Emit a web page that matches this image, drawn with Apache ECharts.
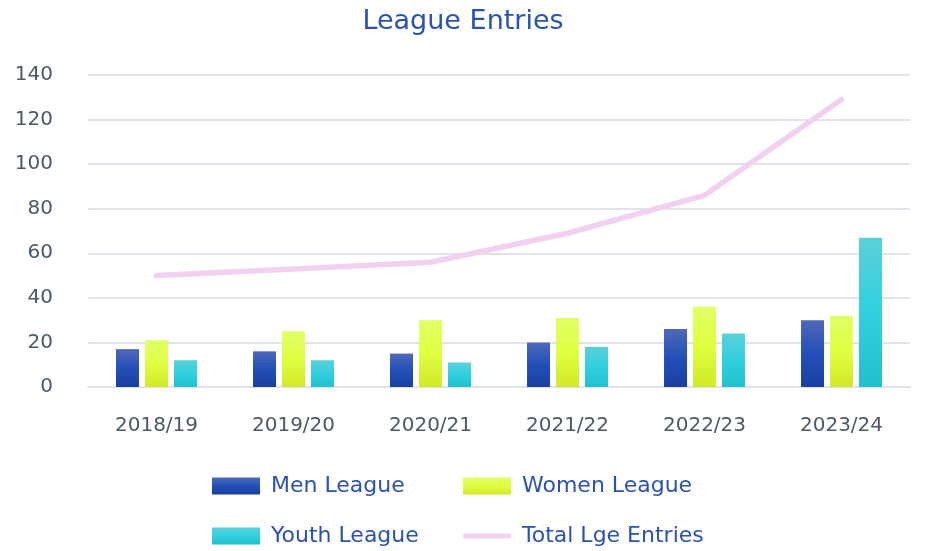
<!DOCTYPE html>
<html><head><meta charset="utf-8">
<script src="https://cdn.jsdelivr.net/npm/echarts@6/dist/echarts.min.js"></script>
<style>html,body{margin:0;padding:0;background:#fff}#c{width:926px;height:551px}</style>
</head><body><div id="c"></div>
<script>
const categories = ['2018/19','2019/20','2020/21','2021/22','2022/23','2023/24'];
const menLeague = [17,16,15,20,26,30];
const womenLeague = [21,25,30,31,36,32];
const youthLeague = [12,12,11,18,24,67];
const totalEntries = [50,53,56,69,86,129];
const yTicks = [0,20,40,60,80,100,120,140];

const FONT = 'DejaVu Sans';
function grad(top, mid, bot){
  return new echarts.graphic.LinearGradient(0,0,0,1,[
    {offset:0,color:top},{offset:0.5,color:mid},{offset:1,color:bot}]);
}
const lineIcon = 'path://M2.5,0 L45.5,0 A2.5,2.5 0 0 1 45.5,5 L2.5,5 A2.5,2.5 0 0 1 2.5,0 Z';
function leg(name, left, top, icon){
  return {left:left, top:top, itemWidth:48, itemHeight:17, itemGap:16,
    textStyle:{fontFamily:FONT,fontSize:22,color:'#2a52b0',padding:[0,0,0,6]},
    data:[{name:name, icon:icon||'rect'}]};
}
const chart = echarts.init(document.getElementById('c'));
chart.setOption({
  animation:false,
  textStyle:{fontFamily:FONT},
  title:{text:'League Entries',left:'center',top:3,
    textStyle:{fontFamily:FONT,fontSize:27,fontWeight:'normal',color:'#2a52b0'}},
  grid:{left:88,right:16,top:75,bottom:164},
  xAxis:{type:'category',data:categories,
    axisLine:{lineStyle:{color:'#e0e4ea',width:2}},axisTick:{show:false},
    axisLabel:{fontSize:20,color:'#4a5868',margin:29}},
  yAxis:{type:'value',min:yTicks[0],max:yTicks[yTicks.length-1],interval:20,
    axisLabel:{fontSize:20,color:'#4a5868',margin:35},
    splitLine:{lineStyle:{color:'#e0e4ea',width:2}}},
  legend:[
    leg('Men League',207,470),
    leg('Women League',458,470),
    leg('Youth League',207,520),
    leg('Total Lge Entries',458,520,lineIcon)
  ],
  series:[
    {name:'Men League',type:'bar',data:menLeague,barWidth:23,barGap:'26%',
     itemStyle:{color:grad('#5068b8','#2250b8','#1a40a0')}},
    {name:'Women League',type:'bar',data:womenLeague,barWidth:23,
     itemStyle:{color:grad('#e0ff66','#e0ff40','#d0e828')}},
    {name:'Youth League',type:'bar',data:youthLeague,barWidth:23,
     itemStyle:{color:grad('#5ad0d8','#30d0e0','#20c0cc')}},
    {name:'Total Lge Entries',type:'line',data:totalEntries,symbol:'none',
     lineStyle:{color:'#f2d0f0',width:5.5,cap:'round',join:'round'},
     itemStyle:{color:'#f2d0f0'}}
  ]
});
</script></body></html>
